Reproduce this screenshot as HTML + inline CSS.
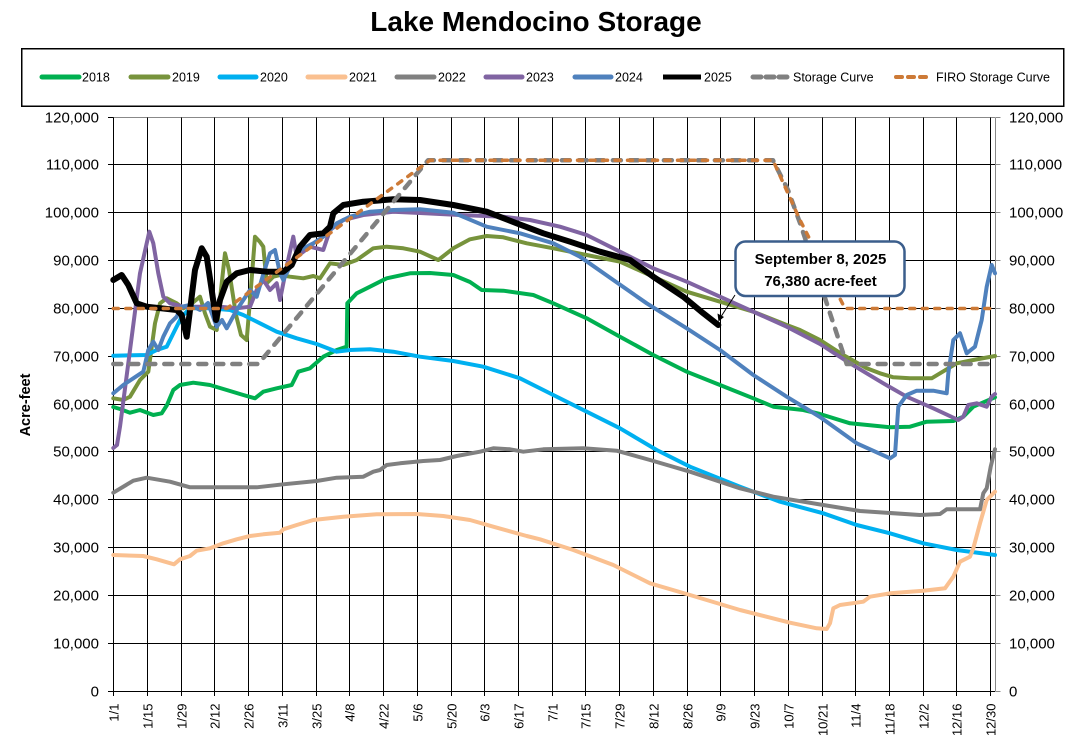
<!DOCTYPE html>
<html>
<head>
<meta charset="utf-8">
<style>
html,body{margin:0;padding:0;background:#fff;}
svg{display:block;}
text{font-family:"Liberation Sans",Arial,sans-serif;}
</style>
</head>
<body>
<svg width="1069" height="738" viewBox="0 0 1069 738" xmlns="http://www.w3.org/2000/svg">
<rect x="0" y="0" width="1069" height="738" fill="#fff"/>

<!-- Title -->
<text x="536" y="31" font-size="28" font-weight="bold" text-anchor="middle" fill="#000">Lake Mendocino Storage</text>

<!-- Legend -->
<rect x="21.5" y="48.5" width="1042" height="57.5" fill="#fff" stroke="#000" stroke-width="1.5" shape-rendering="crispEdges"/>
<g stroke-width="5" stroke-linecap="round" fill="none">
<line x1="42" y1="77" x2="79" y2="77" stroke="#00B050"/>
<line x1="131" y1="77" x2="168" y2="77" stroke="#77933C"/>
<line x1="220" y1="77" x2="256" y2="77" stroke="#00B0F0"/>
<line x1="308" y1="77" x2="345" y2="77" stroke="#FAC090"/>
<line x1="397" y1="77" x2="434" y2="77" stroke="#808080"/>
<line x1="486" y1="77" x2="522" y2="77" stroke="#8064A2"/>
<line x1="575" y1="77" x2="611" y2="77" stroke="#4F81BD"/>
<line x1="663" y1="77" x2="701" y2="77" stroke="#000000" stroke-linecap="butt"/>
<line x1="753" y1="77" x2="789" y2="77" stroke="#808080" stroke-dasharray="8 5"/>
<line x1="896" y1="77" x2="928" y2="77" stroke="#CD7A37" stroke-width="4" stroke-dasharray="6 6"/>
</g>
<g font-size="12.5" fill="#000">
<text x="82" y="81.5">2018</text>
<text x="172" y="81.5">2019</text>
<text x="260" y="81.5">2020</text>
<text x="349" y="81.5">2021</text>
<text x="438" y="81.5">2022</text>
<text x="526" y="81.5">2023</text>
<text x="615" y="81.5">2024</text>
<text x="704" y="81.5">2025</text>
<text x="793" y="81.5">Storage Curve</text>
<text x="936" y="81.5">FIRO Storage Curve</text>
</g>

<!-- Horizontal gridlines -->
<g stroke="#000" stroke-width="1" shape-rendering="crispEdges">
<line x1="113.5" y1="643.5" x2="995" y2="643.5"/>
<line x1="113.5" y1="595.5" x2="995" y2="595.5"/>
<line x1="113.5" y1="547.5" x2="995" y2="547.5"/>
<line x1="113.5" y1="499.5" x2="995" y2="499.5"/>
<line x1="113.5" y1="451.5" x2="995" y2="451.5"/>
<line x1="113.5" y1="404.5" x2="995" y2="404.5"/>
<line x1="113.5" y1="356.5" x2="995" y2="356.5"/>
<line x1="113.5" y1="308.5" x2="995" y2="308.5"/>
<line x1="113.5" y1="260.5" x2="995" y2="260.5"/>
<line x1="113.5" y1="212.5" x2="995" y2="212.5"/>
<line x1="113.5" y1="164.5" x2="995" y2="164.5"/>
</g>
<line x1="113.5" y1="117.5" x2="995" y2="117.5" stroke="#888" stroke-width="1" shape-rendering="crispEdges"/>

<!-- Vertical gridlines + bottom ticks -->
<g stroke="#000" stroke-width="1" shape-rendering="crispEdges">
<line x1="147.5" y1="117.5" x2="147.5" y2="696"/>
<line x1="181.5" y1="117.5" x2="181.5" y2="696"/>
<line x1="214.5" y1="117.5" x2="214.5" y2="696"/>
<line x1="248.5" y1="117.5" x2="248.5" y2="696"/>
<line x1="282.5" y1="117.5" x2="282.5" y2="696"/>
<line x1="316.5" y1="117.5" x2="316.5" y2="696"/>
<line x1="349.5" y1="117.5" x2="349.5" y2="696"/>
<line x1="383.5" y1="117.5" x2="383.5" y2="696"/>
<line x1="417.5" y1="117.5" x2="417.5" y2="696"/>
<line x1="451.5" y1="117.5" x2="451.5" y2="696"/>
<line x1="484.5" y1="117.5" x2="484.5" y2="696"/>
<line x1="518.5" y1="117.5" x2="518.5" y2="696"/>
<line x1="552.5" y1="117.5" x2="552.5" y2="696"/>
<line x1="585.5" y1="117.5" x2="585.5" y2="696"/>
<line x1="619.5" y1="117.5" x2="619.5" y2="696"/>
<line x1="653.5" y1="117.5" x2="653.5" y2="696"/>
<line x1="687.5" y1="117.5" x2="687.5" y2="696"/>
<line x1="720.5" y1="117.5" x2="720.5" y2="696"/>
<line x1="754.5" y1="117.5" x2="754.5" y2="696"/>
<line x1="788.5" y1="117.5" x2="788.5" y2="696"/>
<line x1="822.5" y1="117.5" x2="822.5" y2="696"/>
<line x1="855.5" y1="117.5" x2="855.5" y2="696"/>
<line x1="889.5" y1="117.5" x2="889.5" y2="696"/>
<line x1="923.5" y1="117.5" x2="923.5" y2="696"/>
<line x1="956.5" y1="117.5" x2="956.5" y2="696"/>
<line x1="990.5" y1="117.5" x2="990.5" y2="696"/>
<!-- left axis -->
<line x1="113.5" y1="117.5" x2="113.5" y2="696"/>
<!-- bottom axis -->
<line x1="113.5" y1="691.5" x2="995" y2="691.5"/>
<!-- left ticks -->
<line x1="108" y1="691.5" x2="113.5" y2="691.5"/>
<line x1="108" y1="643.5" x2="113.5" y2="643.5"/>
<line x1="108" y1="595.5" x2="113.5" y2="595.5"/>
<line x1="108" y1="547.5" x2="113.5" y2="547.5"/>
<line x1="108" y1="499.5" x2="113.5" y2="499.5"/>
<line x1="108" y1="451.5" x2="113.5" y2="451.5"/>
<line x1="108" y1="404.5" x2="113.5" y2="404.5"/>
<line x1="108" y1="356.5" x2="113.5" y2="356.5"/>
<line x1="108" y1="308.5" x2="113.5" y2="308.5"/>
<line x1="108" y1="260.5" x2="113.5" y2="260.5"/>
<line x1="108" y1="212.5" x2="113.5" y2="212.5"/>
<line x1="108" y1="164.5" x2="113.5" y2="164.5"/>
<line x1="108" y1="117.5" x2="113.5" y2="117.5"/>
</g>
<!-- right axis (gray) -->
<g stroke="#888" stroke-width="1" shape-rendering="crispEdges">
<line x1="995.5" y1="117.5" x2="995.5" y2="691.5"/>
<line x1="995.5" y1="691.5" x2="1000.5" y2="691.5"/>
<line x1="995.5" y1="643.5" x2="1000.5" y2="643.5"/>
<line x1="995.5" y1="595.5" x2="1000.5" y2="595.5"/>
<line x1="995.5" y1="547.5" x2="1000.5" y2="547.5"/>
<line x1="995.5" y1="499.5" x2="1000.5" y2="499.5"/>
<line x1="995.5" y1="451.5" x2="1000.5" y2="451.5"/>
<line x1="995.5" y1="404.5" x2="1000.5" y2="404.5"/>
<line x1="995.5" y1="356.5" x2="1000.5" y2="356.5"/>
<line x1="995.5" y1="308.5" x2="1000.5" y2="308.5"/>
<line x1="995.5" y1="260.5" x2="1000.5" y2="260.5"/>
<line x1="995.5" y1="212.5" x2="1000.5" y2="212.5"/>
<line x1="995.5" y1="164.5" x2="1000.5" y2="164.5"/>
<line x1="995.5" y1="117.5" x2="1000.5" y2="117.5"/>
</g>

<!-- Left axis labels -->
<g font-size="15" fill="#000" text-anchor="end">
<text x="99" y="696.5">0</text>
<text x="99" y="648.5">10,000</text>
<text x="99" y="600.5">20,000</text>
<text x="99" y="552.5">30,000</text>
<text x="99" y="504.5">40,000</text>
<text x="99" y="456.5">50,000</text>
<text x="99" y="409.5">60,000</text>
<text x="99" y="361.5">70,000</text>
<text x="99" y="313.5">80,000</text>
<text x="99" y="265.5">90,000</text>
<text x="99" y="217.5">100,000</text>
<text x="99" y="169.5">110,000</text>
<text x="99" y="122.5">120,000</text>
</g>
<!-- Right axis labels -->
<g font-size="15" fill="#000" text-anchor="start">
<text x="1009" y="696.5">0</text>
<text x="1009" y="648.5">10,000</text>
<text x="1009" y="600.5">20,000</text>
<text x="1009" y="552.5">30,000</text>
<text x="1009" y="504.5">40,000</text>
<text x="1009" y="456.5">50,000</text>
<text x="1009" y="409.5">60,000</text>
<text x="1009" y="361.5">70,000</text>
<text x="1009" y="313.5">80,000</text>
<text x="1009" y="265.5">90,000</text>
<text x="1009" y="217.5">100,000</text>
<text x="1009" y="169.5">110,000</text>
<text x="1009" y="122.5">120,000</text>
</g>

<!-- Y axis title -->
<text transform="translate(30,405) rotate(-90)" font-size="14.5" font-weight="bold" text-anchor="middle" fill="#000">Acre-feet</text>

<!-- X axis labels -->
<g font-size="13" fill="#000" text-anchor="end">
<text transform="translate(118.5,703.5) rotate(-90)">1/1</text>
<text transform="translate(152.5,703.5) rotate(-90)">1/15</text>
<text transform="translate(186.5,703.5) rotate(-90)">1/29</text>
<text transform="translate(219.5,703.5) rotate(-90)">2/12</text>
<text transform="translate(253.5,703.5) rotate(-90)">2/26</text>
<text transform="translate(287.5,703.5) rotate(-90)">3/11</text>
<text transform="translate(321.5,703.5) rotate(-90)">3/25</text>
<text transform="translate(354.5,703.5) rotate(-90)">4/8</text>
<text transform="translate(388.5,703.5) rotate(-90)">4/22</text>
<text transform="translate(422.5,703.5) rotate(-90)">5/6</text>
<text transform="translate(456.5,703.5) rotate(-90)">5/20</text>
<text transform="translate(489.5,703.5) rotate(-90)">6/3</text>
<text transform="translate(523.5,703.5) rotate(-90)">6/17</text>
<text transform="translate(557.5,703.5) rotate(-90)">7/1</text>
<text transform="translate(590.5,703.5) rotate(-90)">7/15</text>
<text transform="translate(624.5,703.5) rotate(-90)">7/29</text>
<text transform="translate(658.5,703.5) rotate(-90)">8/12</text>
<text transform="translate(692.5,703.5) rotate(-90)">8/26</text>
<text transform="translate(725.5,703.5) rotate(-90)">9/9</text>
<text transform="translate(759.5,703.5) rotate(-90)">9/23</text>
<text transform="translate(793.5,703.5) rotate(-90)">10/7</text>
<text transform="translate(827.5,703.5) rotate(-90)">10/21</text>
<text transform="translate(860.5,703.5) rotate(-90)">11/4</text>
<text transform="translate(894.5,703.5) rotate(-90)">11/18</text>
<text transform="translate(928.5,703.5) rotate(-90)">12/2</text>
<text transform="translate(961.5,703.5) rotate(-90)">12/16</text>
<text transform="translate(995.5,703.5) rotate(-90)">12/30</text>
</g>

<!-- Data series -->
<g fill="none" stroke-linejoin="round" stroke-linecap="round" stroke-width="4">
<!-- 2018 -->
<polyline stroke="#00B050" points="113.3,407 120,409 130,412.7 140,410 153.3,415 161.7,413.3 167,405 173.3,390 180,385 193.3,382.7 210,385 226.7,390 243.3,395 255,398.3 263.3,391.7 276.7,388.3 291.7,385 298.3,371.7 310,368.3 323.3,356.7 336.7,350 346.7,346.7 347.3,303.3 356.7,293.3 370,286.7 386.7,278.3 410,273.3 430,273 453.3,275 470,282 481.7,290 503.3,290.7 533.3,295 553.3,303.3 586.7,318.3 620,336.7 653.3,355 686.7,371.7 720,385 753.3,398.3 773.3,406.7 803.3,410 820,414 850,423.3 890,427.3 910,426.7 926.7,421.7 953.3,421 963.3,416.7 973.3,406.7 995,397.3"/>
<!-- 2019 -->
<polyline stroke="#77933C" points="113.3,398.3 123.3,400 130,396.7 140,380 148.3,371.7 152,345 155,323.3 160,303.3 166.7,298.3 176.7,303.3 183.3,308.3 190,305 200,296.7 205,313.3 210,326.7 216.7,330 221,290 225,253.3 229,270 236,315 241,335 246.7,340 250,300 255,236.7 260,242 263.3,246.7 266.7,283.3 273.3,276.7 280,275 290,276.7 303.3,278.3 313.3,276 320,278.3 330,263.3 343.3,265 356.7,260 373.3,248.3 386.7,246.7 403.3,248.3 420,251.7 438.3,260 453.3,248.3 470,239.3 486.7,236 503.3,237.3 526.7,243.3 553.3,248.3 586.7,255 620,261.7 653.3,276.7 686.7,291.7 720,301.7 753.3,311.7 786.7,325 800,330 820,340 843.3,355 866.7,368.3 880,373.3 893.3,377.3 910,378.3 931.7,378.3 940,373.3 956.7,363.3 973.3,360 995,356"/>
<!-- 2020 -->
<polyline stroke="#00B0F0" points="113.3,355.7 146.7,355 156.7,350 166.7,346.7 175,330 181.7,316.7 190,308.3 210,308.3 230,310 243.3,315 260,323.3 276.7,331.7 296.7,338.3 316.7,344 336.7,351.7 350,350 370,349.3 393.3,351.7 420,356.7 453.3,361 483.3,366.7 520,378.3 553.3,395 586.7,411.7 620,428.3 656.7,450 690,466.7 740,486.7 780,501.7 823.3,513.3 856.7,525 890,533.3 923.3,543.3 956.7,550 995,555"/>
<!-- 2021 -->
<polyline stroke="#FAC090" points="113.3,555 143.3,556 156.7,559.3 174,564.3 180,559.3 190,556 196.7,550.7 210,548.3 223.3,543.3 236.7,539.3 250,536 263.3,534.3 280,532.7 283.3,529.3 296.7,525 313.3,520 343.3,516.7 376.7,514.3 416.7,514 443.3,516 470,520 493.3,526.7 526.7,536 540,539.3 573.3,550 613.3,565 650,583.3 690,595 740,610 790,622.7 816.7,628.3 826.7,629 830,623.3 833.3,608.3 840,605 863.3,601.7 870,596.7 890,593.3 923.3,590.7 945,588.3 953.3,576.7 960,561.7 970,556.7 973.3,548.3 980,523.3 986.7,500 995,491.7"/>
<!-- 2022 -->
<polyline stroke="#808080" points="113.3,492.7 133.3,480.7 146.7,477.7 170,481.7 190,487.3 256.7,487.3 283.3,484.3 316.7,481 336.7,477.7 363.3,476.7 373.3,471.7 380,470 386.7,465 400,463.3 423.3,461 440,460 456.7,456 480,451.7 493.3,448.3 510,449.3 523.3,451.7 543.3,449.3 583.3,448.3 616.7,450.7 650,460 690,471.7 740,488.3 773.3,496.7 823.3,505 860,511 920,515 940,514 946.7,509.3 980,509.3 983.3,493.3 986.7,488.3 990.7,466.7 995,449.3"/>
<!-- 2023 -->
<polyline stroke="#8064A2" points="113.3,448 117,445 120,426.7 128.3,363.3 140,273.3 149.3,231.7 153.3,243.3 158.3,273.3 163.3,296.7 170,303.3 183.3,306.7 220,306.7 236.7,308.3 250,306.7 256.7,290 263.3,280 270,290 276.7,283.3 280,300 283.3,283.3 287,265 293.3,236.7 296.7,256.7 310,246.7 323.3,250 330,230 343.3,220 363.3,215 393.3,211.7 420,213 460,215 503.3,216.7 530,220 560,226.7 586.7,235 620,251.7 653.3,268.3 686.7,281.7 720,296.7 753.3,311.7 786.7,326.7 820,344 850,363.3 883.3,383.3 906.7,396.7 933.3,408.3 958.3,420 963.3,416.7 968.3,405 976.7,403.3 986.7,406.7 991.7,396.7 995,394"/>
<!-- 2024 -->
<polyline stroke="#4F81BD" points="113.3,393.3 123.3,385 133.3,378.3 143.3,371.7 148.3,350 153.3,341.7 158.3,350 163.3,336.7 170,323.3 176.7,316.7 181.7,306.7 190,305 200,310 208,303 216.7,326.7 222,320 226.7,328.3 236.7,310 250,290 256.7,296.7 263,275 270,253.3 275,250 280,273.3 283.3,280 290,266.7 300,250 313.3,243.3 323.3,236.7 336.7,223.3 350,216.7 370,211.7 393.3,210 420,209.3 453.3,212.7 486.7,226.7 520,233.3 553.3,243.3 580,256.7 613.3,280 646.7,303.3 686.7,328.3 720,350 753.3,375 786.7,396.7 820,417 856.7,443.3 890,458.3 895,455 898.3,406.7 906.7,395 916.7,390.7 933.3,390.7 946.7,393.3 948.3,373.3 953.3,340 960,333.3 966.7,353.3 975,346.7 981.7,320 986.7,286.7 991.7,265 995,273.3"/>
<!-- 2025 -->
<polyline stroke="#000000" stroke-width="6" points="113.3,280 121.7,275 128.3,285 136.7,303.3 146.7,306.7 176.7,310 181.7,315 186.7,336.7 195,270 201.7,248.3 206.7,256.7 211.7,290 216,320 220,300 226.7,281.7 236.7,273.3 250,270 266.7,271.7 283.3,271.7 291.7,265 300,246.7 310,235 323.3,233.3 330,226.7 333.3,213.3 343.3,205 363.3,201.7 393.3,199.3 420,200 453.3,205 486.7,211.7 516.7,223.3 543.3,233.3 570,241.7 600,251.7 630,260 653.3,276.7 683.3,296.7 703.3,313.3 718.3,325"/>
<!-- Storage Curve -->
<polyline stroke="#808080" stroke-width="4.5" stroke-dasharray="8 9" points="113.3,364 258.3,364 428,160.3 773,160.3 788,190 800,223 825,298 846.7,364 995,364"/>
<!-- FIRO Storage Curve -->
<polyline stroke="#CD7A37" stroke-width="3.5" stroke-dasharray="5 7.5" points="113.3,308.5 226.7,308.5 430,160.3 773,160.3 800,220 845,308.5 995,308.5"/>
</g>

<!-- Callout -->
<line x1="735" y1="295" x2="719.5" y2="319" stroke="#000" stroke-width="1"/>
<polygon points="718.5,321.5 717.5,313.5 724,317" fill="#000"/>
<rect x="735.5" y="241.5" width="169" height="54.5" rx="10" ry="10" fill="#fff" stroke="#3B5E8C" stroke-width="2.5"/>
<text x="820.5" y="264" font-size="15" font-weight="bold" text-anchor="middle" fill="#000">September 8, 2025</text>
<text x="820.5" y="286" font-size="15" font-weight="bold" text-anchor="middle" fill="#000">76,380 acre-feet</text>
</svg>
</body>
</html>
